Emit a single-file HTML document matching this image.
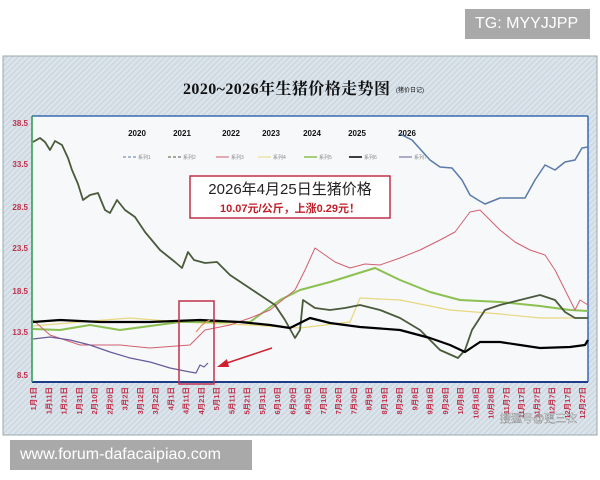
<!DOCTYPE html><html><head><meta charset="utf-8"><style>
body{margin:0;width:600px;height:480px;background:#fff;overflow:hidden;font-family:"Liberation Sans","Noto Sans CJK SC",sans-serif;position:relative}
.wm{position:absolute;background:#a9a9a9;color:#fff;font-size:16px;line-height:30px;padding:0 10px;white-space:nowrap}
</style></head><body>
<div class="wm" style="left:465px;top:9px;width:105px;">TG: MYYJJPP</div>
<div class="wm" style="left:10px;top:440px;width:222px;">www.forum-dafacaipiao.com</div>
<svg width="600" height="480" style="position:absolute;left:0;top:0" font-family="Liberation Sans,Noto Sans CJK SC,sans-serif">
<defs><pattern id="h" width="4" height="4" patternUnits="userSpaceOnUse" patternTransform="rotate(45)"><rect width="4" height="4" fill="#dde5ec"/><rect width="2" height="4" fill="#cfd9e2"/></pattern></defs>
<rect x="3" y="56" width="594" height="379" fill="url(#h)" stroke="#9aa" stroke-width="1"/>
<text x="183" y="94" font-family="Liberation Serif,Noto Serif CJK SC,serif" font-weight="bold" font-size="16" fill="#111" textLength="207">2020~2026年生猪价格走势图</text>
<text x="396" y="92" font-size="6" fill="#111">(猪价日记)</text>
<rect x="32" y="116" width="556" height="266" fill="#f6f8fa"/>
<line x1="32" y1="116" x2="588" y2="116" stroke="#3a6ab0" stroke-width="1.5"/>
<line x1="588" y1="116" x2="588" y2="382" stroke="#3a6ab0" stroke-width="1.5"/>
<line x1="32" y1="382" x2="588" y2="382" stroke="#1b3c8a" stroke-width="2"/>
<line x1="32" y1="116" x2="32" y2="382" stroke="#2a9a4a" stroke-width="1.5"/>
<g font-size="8" font-weight="bold" fill="#c0304a" text-anchor="end">
<text x="28" y="126">38.5</text><text x="28" y="167">33.5</text><text x="28" y="210">28.5</text><text x="28" y="251">23.5</text><text x="28" y="294">18.5</text><text x="28" y="335">13.5</text><text x="28" y="378">8.5</text></g>
<g font-size="8" font-weight="bold" fill="#111" text-anchor="middle">
<text x="137" y="136">2020</text><text x="182" y="136">2021</text><text x="231" y="136">2022</text><text x="271" y="136">2023</text><text x="312" y="136">2024</text><text x="357" y="136">2025</text><text x="407" y="136">2026</text></g>
<g font-size="5" fill="#888">
<line x1="123" y1="157" x2="136" y2="157" stroke="#5a7aa8" stroke-dasharray="3,2"/><text x="138" y="159">系列1</text>
<line x1="168" y1="157" x2="181" y2="157" stroke="#4a5a3a" stroke-dasharray="3,2"/><text x="183" y="159">系列2</text>
<line x1="216" y1="157" x2="229" y2="157" stroke="#d06070"/><text x="231" y="159">系列3</text>
<line x1="258" y1="157" x2="271" y2="157" stroke="#e8d880"/><text x="273" y="159">系列4</text>
<line x1="304" y1="157" x2="317" y2="157" stroke="#8cc050" stroke-width="1.5"/><text x="319" y="159">系列5</text>
<line x1="349" y1="157" x2="362" y2="157" stroke="#000" stroke-width="1.5"/><text x="364" y="159">系列6</text>
<line x1="399" y1="157" x2="412" y2="157" stroke="#6a5a9a"/><text x="414" y="159">系列7</text></g>
<g fill="none" stroke-linejoin="round">
<polyline stroke="#e8d880" stroke-width="1.2" points="33,326 80,322 130,318 180,322 250,325 300,328 350,322 360,298 400,300 450,310 500,314 540,318 588,318"/>
<polyline stroke="#8cc050" stroke-width="2" points="33,329 60,330 90,325 120,330 180,322 250,322 280,300 300,290 330,282 375,268 400,280 430,292 460,300 500,302 540,306 570,310 588,311"/>
<polyline stroke="#d06070" stroke-width="1" points="33,320 50,335 80,345 120,345 150,348 190,345 205,330 230,325 250,318 270,310 295,290 305,270 315,248 325,255 335,262 350,268 365,264 380,265 400,258 420,250 440,240 455,232 470,212 480,210 490,220 500,230 515,242 530,250 545,255 555,270 565,290 575,310 580,300 588,305"/>
<polyline stroke="#5a7aa8" stroke-width="1.5" points="400,134 412,140 430,160 440,167 452,168 462,180 470,195 478,200 485,204 500,198 525,198 535,180 545,165 555,170 565,162 575,160 582,148 588,147"/>
<polyline stroke="#4a5a3a" stroke-width="1.8" points="33,142 40,138 45,142 50,150 55,141 62,145 68,158 72,170 78,184 83,200 90,195 98,193 105,210 110,213 117,200 125,210 135,217 145,232 160,250 175,262 182,268 188,252 194,260 205,263 217,262 230,275 245,285 260,295 275,305 285,320 295,338 300,330 303,300 315,308 330,310 345,308 360,305 380,310 400,318 420,330 440,350 458,358 465,350 472,330 485,310 500,305 520,300 540,295 555,300 565,312 575,318 588,318"/>
<polyline stroke="#000" stroke-width="2.2" points="33,322 60,320 100,322 150,322 200,320 240,322 270,325 290,328 310,318 330,323 360,327 400,330 430,338 450,345 465,352 480,342 500,342 520,345 540,348 570,347 585,345 588,340"/>
<polyline stroke="#e89050" stroke-width="1.2" points="196,332 202,325 206,322 210,320"/>
<polyline stroke="#6a5a9a" stroke-width="1.2" points="33,339 50,337 70,340 90,345 110,352 130,358 150,362 170,368 190,372 196,373 200,365 204,367 208,363"/>
</g>
<rect x="179" y="301" width="35" height="83" fill="none" stroke="#c0304a" stroke-width="1.5"/>
<line x1="272" y1="348" x2="224" y2="364" stroke="#d02030" stroke-width="1.5"/>
<polygon points="217,367 227,359 229,367" fill="#d02030"/>
<rect x="190" y="176" width="200" height="42" fill="#fff" stroke="#c0304a" stroke-width="1.5"/>
<text x="290" y="194" font-size="15" text-anchor="middle" fill="#222">2026年4月25日生猪价格</text>
<text x="290" y="212" font-size="11" font-weight="bold" text-anchor="middle" fill="#c0202a">10.07元/公斤，上涨0.29元！</text>
<g font-size="7.5" font-weight="bold" fill="#c0304a" id="xl"></g>
<text x="500" y="422" font-size="11" fill="#fff" stroke="#555" stroke-width="0.3">搜狐号@更三农</text>
</svg>
<script>
var L=["1月1日","1月11日","1月21日","1月31日","2月10日","2月20日","3月2日","3月12日","3月22日","4月1日","4月11日","4月21日","5月1日","5月11日","5月21日","5月31日","6月10日","6月20日","6月30日","7月10日","7月20日","7月30日","8月9日","8月19日","8月29日","9月8日","9月18日","9月28日","10月8日","10月18日","10月28日","11月7日","11月17日","11月27日","12月7日","12月17日","12月27日"];
var g=document.getElementById("xl"),s="";
for(var i=0;i<L.length;i++){var x=36+i*15.25;s+='<text transform="translate('+x+',387) rotate(-90)" text-anchor="end">'+L[i]+'</text>';}
g.innerHTML=s;
</script>
</body></html>
